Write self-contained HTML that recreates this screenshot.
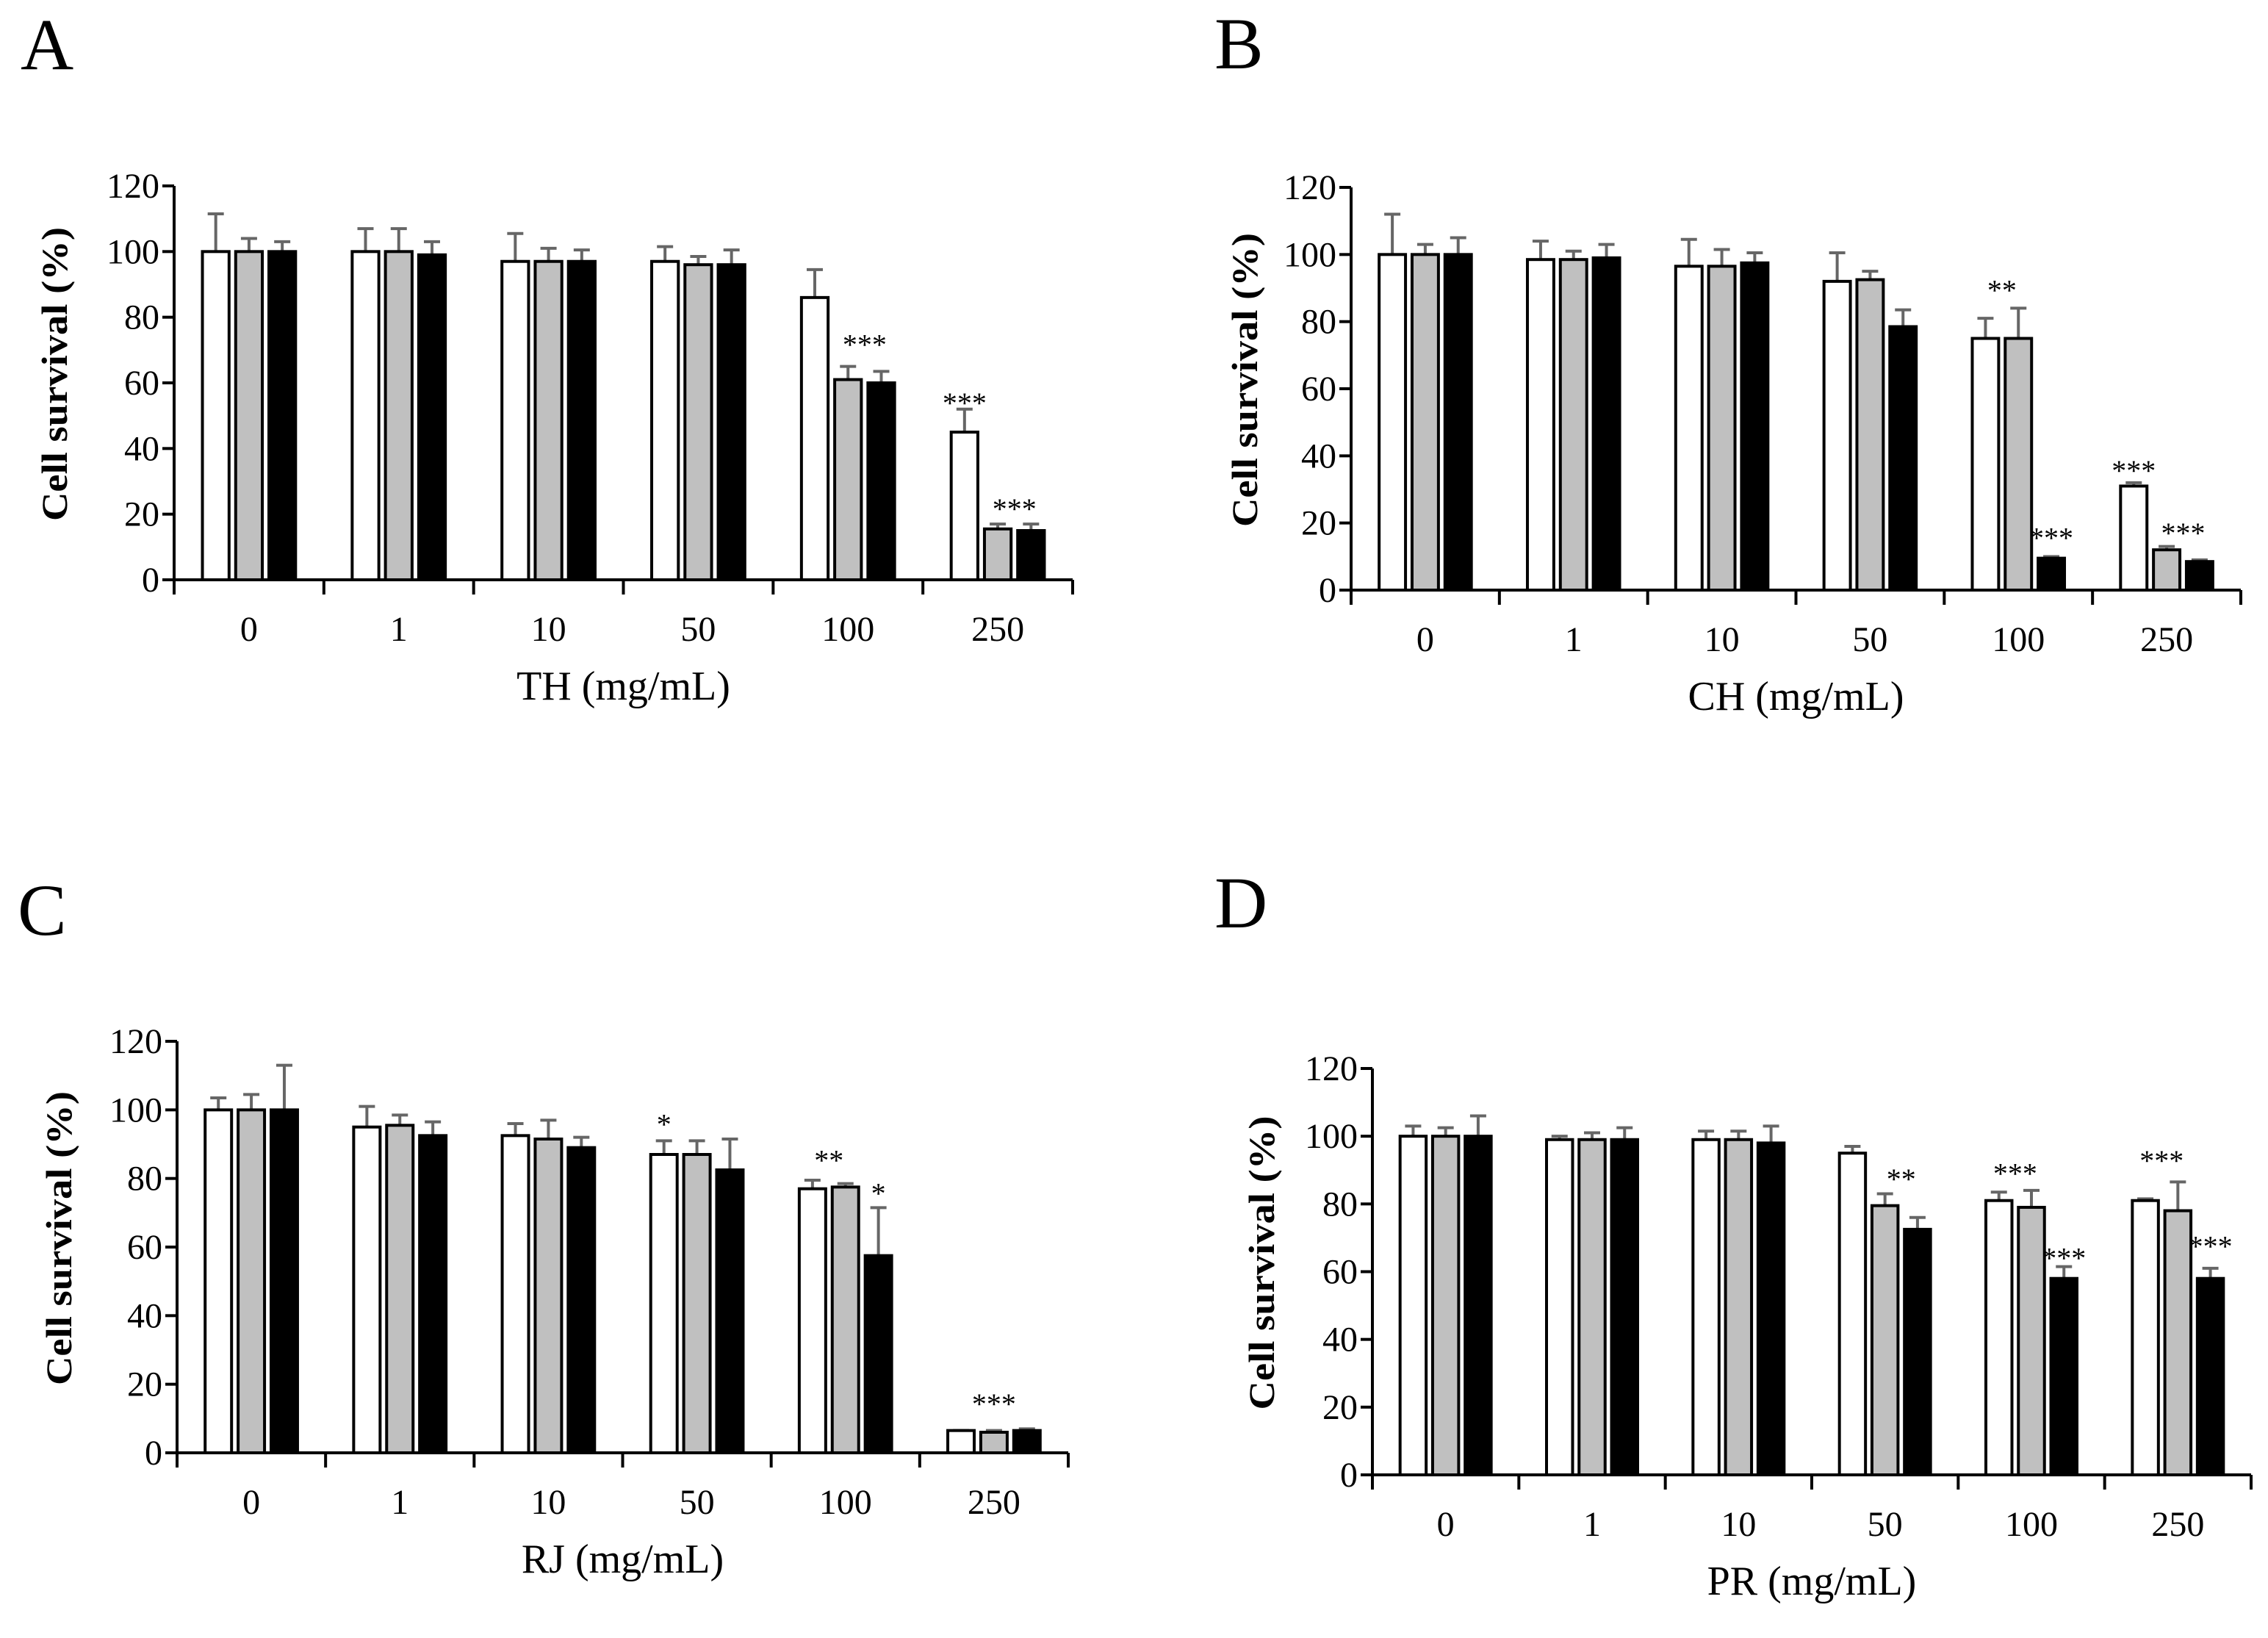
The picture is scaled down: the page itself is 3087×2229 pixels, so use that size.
<!DOCTYPE html>
<html><head><meta charset="utf-8"><style>
html,body{margin:0;padding:0;background:#fff;}
svg{display:block;}
text{font-family:"Liberation Serif",serif;fill:#000;}
</style></head><body>
<svg id="fig" width="3087" height="2229" viewBox="0 0 3087 2229" xmlns="http://www.w3.org/2000/svg"></svg>
<script>
const categories = ["0","1","10","50","100","250"];
const yTicks = [0,20,40,60,80,100,120];
const seriesNames = ["white","gray","black"];
const A_white = [100,100,97,97,86,45];
const A_gray  = [100,100,97,96,61,15.5];
const A_black = [100,99,97,96,60,15];
const A_errW = [11.5,7,8.5,4.5,8.5,7];
const A_errG = [4,7,4,2.5,4,1.5];
const A_errB = [3,4,3.5,4.5,3.5,2];
const A_starGroup = [4,5,5];
const A_starPos = [1.5,0,1.5];
const A_starY = [72.7,54.8,22.6];
const A_starText = ["***","***","***"];
const B_white = [100,98.5,96.5,92,75,31];
const B_gray  = [100,98.5,96.5,92.5,75,12];
const B_black = [100,99,97.5,78.5,9.5,8.5];
const B_errW = [12,5.5,8,8.5,6,1];
const B_errG = [3,2.5,5,2.5,9,1];
const B_errB = [5,4,3,5,0.5,0.5];
const B_starGroup = [4,4,5,5];
const B_starPos = [0.5,2,0,1.5];
const B_starY = [90.3,16.5,36.6,18];
const B_starText = ["**","***","***","***"];
const C_white = [100,95,92.5,87,77,6.5];
const C_gray  = [100,95.5,91.5,87,77.5,6];
const C_black = [100,92.5,89,82.5,57.5,6.5];
const C_errW = [3.5,6,3.5,4,2.5,0];
const C_errG = [4.5,3,5.5,4,1,0.5];
const C_errB = [13,4,3,9,14,0.5];
const C_starGroup = [3,4,4,5];
const C_starPos = [0,0.5,2,1];
const C_starY = [96.7,86.2,76.6,15.2];
const C_starText = ["*","**","*","***"];
const D_white = [100,99,99,95,81,81];
const D_gray  = [100,99,99,79.5,79,78];
const D_black = [100,99,98,72.5,58,58];
const D_errW = [3,1,2.5,2,2.5,0.5];
const D_errG = [2.5,2,2.5,3.5,5,8.5];
const D_errB = [6,3.5,5,3.5,3.5,3];
const D_starGroup = [3,4,4,5,5];
const D_starPos = [1.5,0.5,2,0.5,2];
const D_starY = [88.3,90,65,93.7,68.5];
const D_starText = ["**","***","***","***","***"];

const svg = document.getElementById('fig');
const NS = 'http://www.w3.org/2000/svg';
function mk(tag, attrs, parent){ const e=document.createElementNS(NS,tag); for(const k in attrs) e.setAttribute(k,attrs[k]); parent.appendChild(e); return e; }

const panels = [
 {id:'a', letter:'A', lx:28, ly:94, x0:237, x1:1460, y0:789, y120:253, ylx:73, xt:'TH (mg/mL)', vals:[A_white,A_gray,A_black], errs:[A_errW,A_errG,A_errB], sg:A_starGroup, sp:A_starPos, sy:A_starY, st:A_starText},
 {id:'b', letter:'B', lx:1653, ly:93, x0:1839, x1:3050, y0:803, y120:255, ylx:1693, xt:'CH (mg/mL)', vals:[B_white,B_gray,B_black], errs:[B_errW,B_errG,B_errB], sg:B_starGroup, sp:B_starPos, sy:B_starY, st:B_starText},
 {id:'c', letter:'C', lx:24, ly:1272, x0:241, x1:1454, y0:1977, y120:1417, ylx:79, xt:'RJ (mg/mL)', vals:[C_white,C_gray,C_black], errs:[C_errW,C_errG,C_errB], sg:C_starGroup, sp:C_starPos, sy:C_starY, st:C_starText},
 {id:'d', letter:'D', lx:1653, ly:1262, x0:1868, x1:3064, y0:2007, y120:1454, ylx:1716, xt:'PR (mg/mL)', vals:[D_white,D_gray,D_black], errs:[D_errW,D_errG,D_errB], sg:D_starGroup, sp:D_starPos, sy:D_starY, st:D_starText}
];
const fills = ['#ffffff','#c0c0c0','#000000'];

panels.forEach(p=>{
  const g = mk('g',{},svg);
  
  
  const yS = v => p.y0 - (v/120)*(p.y0-p.y120);
  const gw = (p.x1-p.x0)/categories.length;
  const bw = gw*0.178, step = gw*0.222;
  const barX = (gi,si) => p.x0 + gw*gi + gw/2 + (si-1)*step;
  const L = mk('text',{x:p.lx,y:p.ly,'font-size':100},g); L.textContent=p.letter;
   
  p.vals.forEach((arr,si)=>{
    arr.forEach((v,gi)=>{
      const cx = barX(gi,si);
      const e = p.errs[si][gi];
      const top = yS(v+e);
      const el = mk('line',{x1:cx,x2:cx,y1:yS(v),y2:top,stroke:'#666','stroke-width':4},g);
      
      
      const cap = mk('line',{x1:cx-11,x2:cx+11,y1:top,y2:top,stroke:'#666','stroke-width':4},g);
      
      
      const r = mk('rect',{x:cx-bw/2,y:yS(v),width:bw,height:p.y0-yS(v),fill:fills[si],stroke:'#000','stroke-width':4},g);
      
      
    });
  });
  const ya = mk('line',{x1:p.x0,x2:p.x0,y1:p.y120,y2:p.y0,stroke:'#000','stroke-width':4},g);
   
  yTicks.forEach(t=>{
    const y=yS(t);
    const tk = mk('line',{x1:p.x0-16,x2:p.x0,y1:y,y2:y,stroke:'#000','stroke-width':4},g);
     
    const tl = mk('text',{x:p.x0-20,y:y+16,'font-size':48,'text-anchor':'end'},g); tl.textContent=t;
     
  });
  const xa = mk('line',{x1:p.x0-2,x2:p.x1,y1:p.y0,y2:p.y0,stroke:'#000','stroke-width':4},g);
   
  for(let i=0;i<=categories.length;i++){
    const x=p.x0+gw*i;
    const tk = mk('line',{x1:x,x2:x,y1:p.y0,y2:p.y0+20,stroke:'#000','stroke-width':4},g);
     
  }
  categories.forEach((c,i)=>{
    const tl = mk('text',{x:p.x0+gw*i+gw/2,y:p.y0+83,'font-size':48,'text-anchor':'middle'},g); tl.textContent=c;
     
  });
  const xt = mk('text',{x:(p.x0+p.x1)/2,y:p.y0+163,'font-size':56,'text-anchor':'middle'},g); xt.textContent=p.xt;
   
  const yc = (p.y0+p.y120)/2 - 12;
  const yt = mk('text',{x:0,y:0,'font-size':50,'font-weight':'bold','text-anchor':'middle',transform:`translate(${p.ylx+18},${yc}) rotate(-90)`,textLength:400,lengthAdjust:'spacingAndGlyphs'},g); yt.textContent='Cell survival (%)';
   
  p.sg.forEach((gi,k)=>{
    const x = p.x0 + gw*gi + gw/2 + (p.sp[k]-1)*step;
    const s = mk('text',{x:x,y:yS(p.sy[k])+18,'font-size':40,'text-anchor':'middle'},g); s.textContent=p.st[k];
     
  });
});
</script>
</body></html>
